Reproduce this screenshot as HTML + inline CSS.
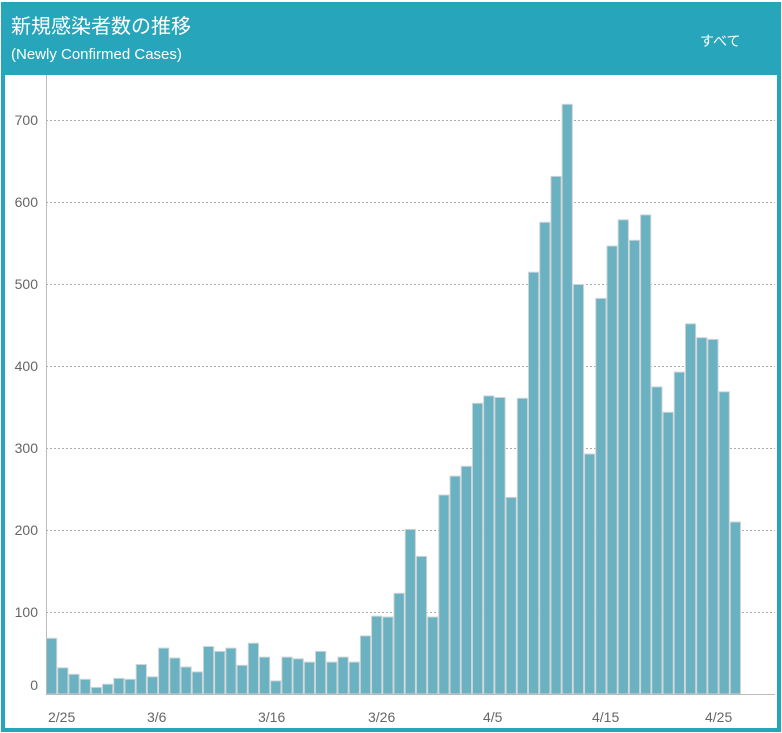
<!DOCTYPE html>
<html><head><meta charset="utf-8"><style>
body{margin:0;background:#fff;width:782px;height:733px;overflow:hidden;font-family:"Liberation Sans","Noto Sans CJK JP",sans-serif}
</style></head><body>
<svg width="782" height="733" xmlns="http://www.w3.org/2000/svg" style="position:absolute;left:0;top:0">
<rect x="3" y="4" width="776" height="726" fill="#fff" stroke="#27a5ba" stroke-width="4"/>
<rect x="3" y="4" width="776" height="71" fill="#27a5ba"/>
<text x="11" y="33" font-size="20" fill="#fff" font-family="'Liberation Sans','Noto Sans CJK JP',sans-serif">新規感染者数の推移</text>
<text x="11" y="59" font-size="15" fill="#fff">(Newly Confirmed Cases)</text>
<text x="700" y="46" font-size="14" fill="#fff" font-family="'Liberation Sans','Noto Sans CJK JP',sans-serif">すべて</text>
<g stroke="#aaa" stroke-width="1" stroke-dasharray="2,2">
<line x1="46" x2="775" y1="120.5" y2="120.5"/><line x1="46" x2="775" y1="202.5" y2="202.5"/><line x1="46" x2="775" y1="284.5" y2="284.5"/><line x1="46" x2="775" y1="366.5" y2="366.5"/><line x1="46" x2="775" y1="448.5" y2="448.5"/><line x1="46" x2="775" y1="530.5" y2="530.5"/><line x1="46" x2="775" y1="612.5" y2="612.5"/>
</g>
<g font-size="14" fill="#666" text-anchor="end">
<text x="38" y="125">700</text><text x="38" y="207">600</text><text x="38" y="289">500</text><text x="38" y="371">400</text><text x="38" y="453">300</text><text x="38" y="535">200</text><text x="38" y="617">100</text><text x="38" y="690">0</text>
</g>
<g id="bars" fill="#6ab1c1" stroke="#d0d4d6" stroke-width="1"></g>
<line x1="46.5" x2="46.5" y1="75" y2="694" stroke="#bbb"/>
<line x1="46" x2="775" y1="694.5" y2="694.5" stroke="#bbb"/>
<g font-size="14" fill="#666">
<text x="48" y="722">2/25</text><text x="147" y="722">3/6</text><text x="258" y="722">3/16</text><text x="368" y="722">3/26</text><text x="483" y="722">4/5</text><text x="592" y="722">4/15</text><text x="705" y="722">4/25</text>
</g>
</svg>
<script>
var v=[68,32,24,18,8,12,19,18,36,21,56,44,33,27,58,52,56,35,62,45,16,45,43,39,52,39,45,39,71,95,94,123,201,168,94,243,266,278,355,364,362,240,361,515,576,632,720,500,293,483,547,579,554,585,375,344,393,452,435,433,369,210];
var g=document.getElementById('bars'),w=(741-46)/62,s="";
for(var i=0;i<v.length;i++){var h=v[i]*0.819;s+='<rect x="'+(46+i*w+0.5).toFixed(2)+'" y="'+(694-h).toFixed(1)+'" width="'+(w-1).toFixed(2)+'" height="'+h.toFixed(1)+'"/>';}
g.innerHTML=s;
</script>
</body></html>
